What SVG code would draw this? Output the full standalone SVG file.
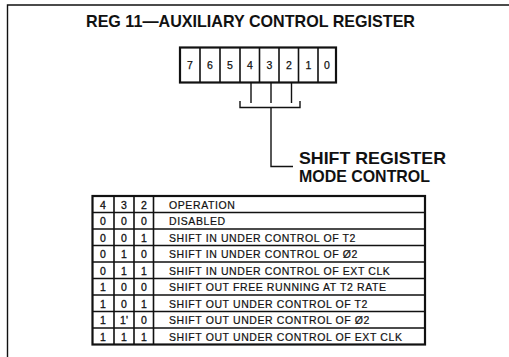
<svg xmlns="http://www.w3.org/2000/svg" width="509" height="357" viewBox="0 0 509 357">
<style>
.ln{fill:none;stroke:#111;stroke-width:1.4}
.tb{fill:none;stroke:#111;stroke-width:1.6}
.ob{fill:none;stroke:#111;stroke-width:2.2}
.t{font-family:"Liberation Sans",Arial,sans-serif;fill:#111}
.big{font-weight:bold;font-size:17px}
.d{font-size:10.5px;text-anchor:middle;stroke:#111;stroke-width:0.25}
.c{font-size:10.5px;text-anchor:middle;stroke:#111;stroke-width:0.3}
.op{font-size:10.5px;letter-spacing:0.6px;stroke:#111;stroke-width:0.2}
</style>
<rect width="509" height="357" fill="#fff"/>
<path class="ln" d="M7.5,357 V5 H509" stroke-width="1.5"/>
<g id="title"><text class="t big" x="86" y="27" textLength="329" lengthAdjust="spacingAndGlyphs">REG 11—AUXILIARY CONTROL REGISTER</text></g>
<g id="register">
<rect class="ob" x="180" y="47.5" width="156" height="35"/>
<path class="tb" d="M200,47.5V82.5M220,47.5V82.5M240,47.5V82.5M259.5,47.5V82.5M279,47.5V82.5M298.5,47.5V82.5M318,47.5V82.5"/>
<g class="t d">
<text x="190" y="69">7</text><text x="210" y="69">6</text><text x="230" y="69">5</text><text x="250" y="69">4</text>
<text x="269.5" y="69">3</text><text x="289" y="69">2</text><text x="308.5" y="69">1</text><text x="327" y="69">0</text>
</g>
</g>
<g id="connectors">
<path class="ln" d="M251,83V103M271,83V103M291.5,83V103"/>
<path class="ln" d="M240,101V107.5H300V101"/>
<path class="ln" d="M271,108V166.5H293"/>
</g>
<g id="label">
<text class="t big" x="299" y="163.5" textLength="147" lengthAdjust="spacingAndGlyphs">SHIFT REGISTER</text>
<text class="t big" x="299" y="181.5" textLength="131" lengthAdjust="spacingAndGlyphs">MODE CONTROL</text>
</g>
<g id="table">
<rect class="ob" x="92.5" y="196" width="332.5" height="148.5"/>
<path class="tb" d="M114,196V344.5M134,196V344.5M153.5,196V344.5"/>
<path class="tb" d="M92.5,212.5H425M92.5,229H425M92.5,245.5H425M92.5,262H425M92.5,278.5H425M92.5,295H425M92.5,311.5H425M92.5,328H425"/>
<g class="t c">
<text x="103" y="208.5">4</text><text x="124" y="208.5">3</text><text x="144" y="208.5">2</text>
<text x="103" y="225">0</text><text x="124" y="225">0</text><text x="144" y="225">0</text>
<text x="103" y="241.5">0</text><text x="124" y="241.5">0</text><text x="144" y="241.5">1</text>
<text x="103" y="258">0</text><text x="124" y="258">1</text><text x="144" y="258">0</text>
<text x="103" y="274.5">0</text><text x="124" y="274.5">1</text><text x="144" y="274.5">1</text>
<text x="103" y="291">1</text><text x="124" y="291">0</text><text x="144" y="291">0</text>
<text x="103" y="307.5">1</text><text x="124" y="307.5">0</text><text x="144" y="307.5">1</text>
<text x="103" y="324">1</text><text x="124" y="324">1'</text><text x="144" y="324">0</text>
<text x="103" y="340.5">1</text><text x="124" y="340.5">1</text><text x="144" y="340.5">1</text>
</g>
<g class="t op">
<text x="169" y="208.5">OPERATION</text>
<text x="169" y="225">DISABLED</text>
<text x="169" y="241.5">SHIFT IN UNDER CONTROL OF T2</text>
<text x="169" y="258">SHIFT IN UNDER CONTROL OF Ø2</text>
<text x="169" y="274.5">SHIFT IN UNDER CONTROL OF EXT CLK</text>
<text x="169" y="291">SHIFT OUT FREE RUNNING AT T2 RATE</text>
<text x="169" y="307.5">SHIFT OUT UNDER CONTROL OF T2</text>
<text x="169" y="324">SHIFT OUT UNDER CONTROL OF Ø2</text>
<text x="169" y="340.5">SHIFT OUT UNDER CONTROL OF EXT CLK</text>
</g>
</g>
</svg>
